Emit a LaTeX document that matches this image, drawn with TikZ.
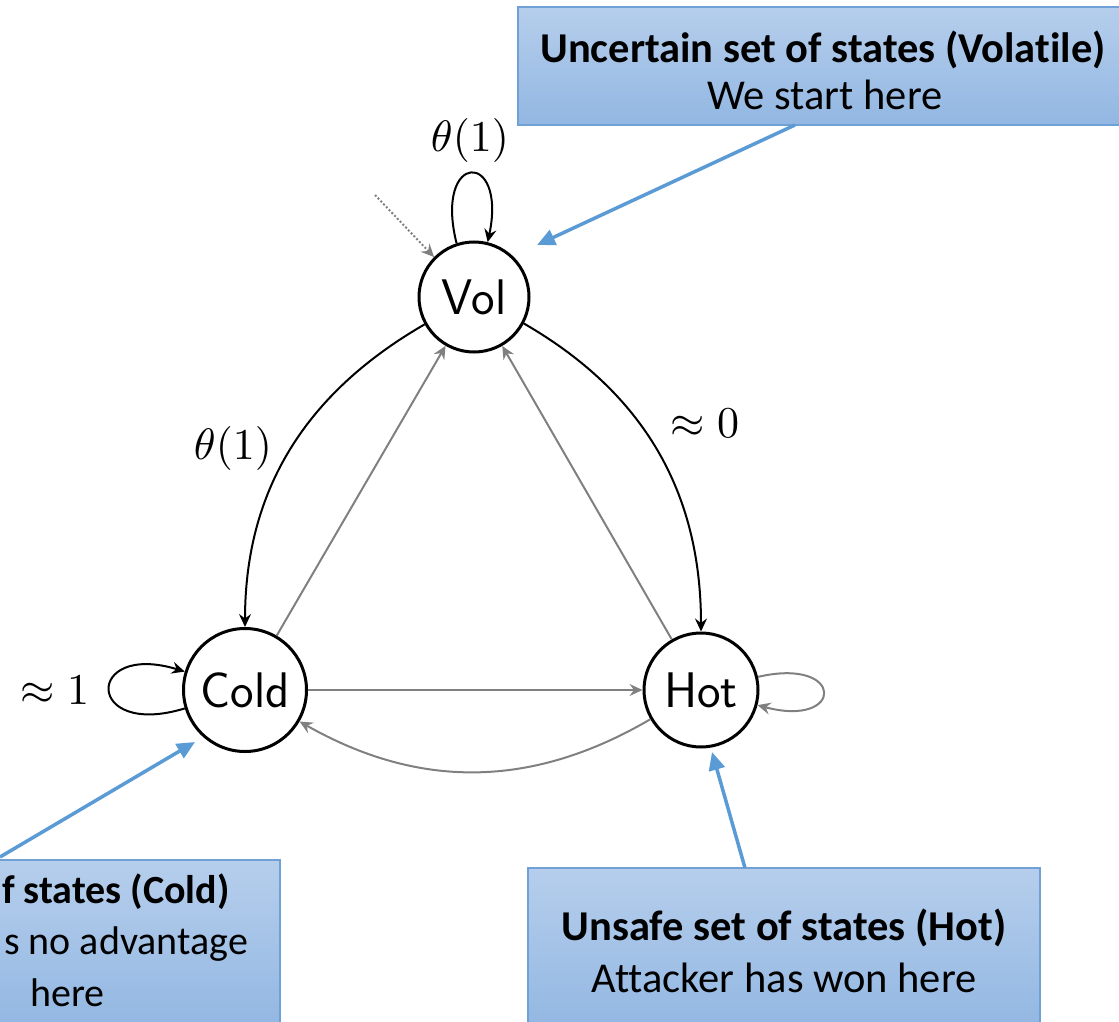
\documentclass[tikz,border=0pt]{standalone}
\usepackage[no-math]{fontspec}
\newfontfamily\calib[Ligatures=NoCommon]{Carlito}
\usetikzlibrary{arrows.meta}
\newcommand{\lblmath}[1]{\scalebox{4.4}{$#1$}}
\definecolor{callblue}{RGB}{91,155,213}
\definecolor{boxtop}{RGB}{182,206,236}
\definecolor{boxbot}{RGB}{146,183,226}
\definecolor{boxline}{RGB}{112,161,214}
\definecolor{edgegray}{RGB}{128,128,128}
\begin{document}
\begin{tikzpicture}[x=1pt,y=1pt,
  state/.style={circle,draw=black,line width=3pt,inner sep=0pt,font=\fontsize{50}{60}\selectfont\sffamily},
  blk/.style={draw=black,line width=2pt,-{Stealth[length=13pt,width=12pt,inset=4.5pt]}},
  gry/.style={draw=edgegray,line width=2pt,-{Stealth[length=13pt,width=12pt,inset=4.5pt]}},
  lbl/.style={inner sep=0pt},
  callbox/.style={draw=boxline,line width=1.5pt,top color=boxtop,bottom color=boxbot,rectangle,inner sep=0pt},
  boxtxt/.style={font=\calib\fontsize{42.5}{50}\selectfont,inner sep=0pt},
  boldtxt/.style={font=\calib\bfseries\fontsize{42.5}{50}\selectfont,inner sep=0pt},
  smalltxt/.style={font=\calib\fontsize{40}{50}\selectfont,inner sep=0pt},
  smallbold/.style={font=\calib\bfseries\fontsize{40}{50}\selectfont,inner sep=0pt},
  callarrow/.style={draw=callblue,line width=3.5pt,-{Triangle[length=18pt,width=16pt]}}
]
\useasboundingbox (0,0) rectangle (1119,-1022);
\clip (0,0) rectangle (1119,-1022);

% callout boxes
\node[callbox,minimum width=607pt,minimum height=118pt] (vbox) at (821.5,-66) {};
\node[callbox,minimum width=512pt,minimum height=162pt] (hbox) at (784,-949) {};
\node[callbox,minimum width=300pt,minimum height=170pt] (cbox) at (130,-945) {};

\node[boldtxt] (vt1) at (823,-50) {Uncertain set of states (Volatile)};
\node[boxtxt]  (vt2) at (825,-95) {We start here};
\node[boldtxt] (ht1) at (784,-928) {Unsafe set of states (Hot)};
\node[boxtxt]  (ht2) at (784,-978) {Attacker has won here};
\node[smallbold,anchor=west] (ct1) at (2,-892) {f states (Cold)};
\node[smalltxt,anchor=west]  (ct2) at (4,-944) {s no advantage};
\node[smalltxt,anchor=west]  (ct3) at (30,-993) {here};

% states
\node[state,minimum size=110pt] (Vol) at (474,-297) {Vol};
\node[state,minimum size=123pt] (Cold) at (245,-690) {Cold};
\node[state,minimum size=114pt] (Hot) at (701,-690) {Hot};

% labels
\node[lbl] (l1) at (470,-140) {\lblmath{\theta(1)}};
\node[lbl] (l2) at (233,-448) {\lblmath{\theta(1)}};
\node[lbl] (l3) at (705,-423) {\lblmath{\approx 0}};
\node[lbl] (l4) at (55,-690) {\lblmath{\approx 1}};

% edges
\draw[blk] (Vol.209) to[out=210,in=90] (Cold.north);
\draw[blk] (Vol.332) to[out=330,in=90] (Hot.north);
\draw[gry] (Cold) -- (Vol);
\draw[gry] (Hot) -- (Vol);
\draw[gry] (Cold) -- (Hot);
\draw[gry] (Hot) to[bend left=30] (Cold);
\draw[blk] (Cold.197) .. controls +(197:105) and +(163:105) .. (Cold.163);
\draw[gry] (Hot.13) .. controls +(13:90) and +(-15:90) .. (Hot.-15);
\draw[blk] (Vol.108) .. controls +(104:95) and +(78:95) .. (Vol.76);
\coordinate (init) at (375,-195);
\draw[gry,dotted] (init) -- (Vol.135);

% callout arrows
\coordinate (vA) at (795,-125);
\coordinate (vT) at (537,-245);
\coordinate (cA) at (0,-857);
\coordinate (cT) at (195,-742);
\coordinate (hA) at (745,-868);
\coordinate (hT) at (712,-752);
\draw[callarrow] (vA) -- (vT);
\draw[callarrow] (cA) -- (cT);
\draw[callarrow] (hA) -- (hT);
\end{tikzpicture}
\end{document}
